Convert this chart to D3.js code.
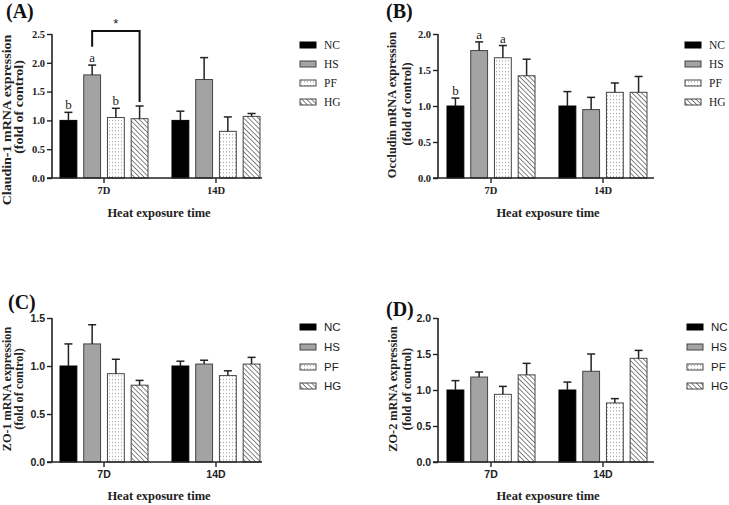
<!DOCTYPE html>
<html><head><meta charset="utf-8">
<script src="https://cdn.jsdelivr.net/npm/d3@7"></script>
<style>body{margin:0;background:#fff}svg{display:block}</style>
</head><body>
<script>
const groups = ["7D", "14D"];
const series = ["NC", "HS", "PF", "HG"];

const claudinMean = [[1.00, 1.79, 1.05, 1.03], [1.00, 1.71, 0.81, 1.07]];
const claudinSD   = [[0.14, 0.17, 0.16, 0.22], [0.16, 0.38, 0.25, 0.05]];
const claudinLetters = [["b", "a", "b", ""], ["", "", "", ""]];
const claudinTicks = [0, 0.5, 1.0, 1.5, 2.0, 2.5];

const occludinMean = [[1.00, 1.77, 1.67, 1.42], [1.00, 0.95, 1.19, 1.19]];
const occludinSD   = [[0.11, 0.12, 0.17, 0.23], [0.20, 0.17, 0.13, 0.22]];
const occludinLetters = [["b", "a", "a", ""], ["", "", "", ""]];
const occludinTicks = [0, 0.5, 1.0, 1.5, 2.0];

const zo1Mean = [[1.00, 1.23, 0.92, 0.80], [1.00, 1.02, 0.90, 1.02]];
const zo1SD   = [[0.23, 0.20, 0.15, 0.05], [0.05, 0.04, 0.05, 0.07]];
const zo1Ticks = [0, 0.5, 1.0, 1.5];

const zo2Mean = [[1.00, 1.18, 0.94, 1.21], [1.00, 1.26, 0.82, 1.44]];
const zo2SD   = [[0.13, 0.07, 0.11, 0.16], [0.11, 0.24, 0.06, 0.11]];
const zo2Ticks = [0, 0.5, 1.0, 1.5, 2.0];

const W = 729, H = 505;
const svg = d3.select("body").append("svg").attr("width", W).attr("height", H);
const defs = svg.append("defs");

// patterns
const pf = defs.append("pattern").attr("id", "dots").attr("patternUnits", "userSpaceOnUse")
  .attr("width", 3).attr("height", 3.5);
pf.append("rect").attr("width", 3).attr("height", 3.5).attr("fill", "#fff");
pf.append("rect").attr("x", 1).attr("y", 1).attr("width", 0.9).attr("height", 0.9).attr("fill", "#777");
const hg = defs.append("pattern").attr("id", "hatch").attr("patternUnits", "userSpaceOnUse")
  .attr("width", 3.4).attr("height", 3.4).attr("patternTransform", "rotate(-45)");
hg.append("rect").attr("width", 3.4).attr("height", 3.4).attr("fill", "#fff");
hg.append("line").attr("x1", 0).attr("y1", 0).attr("x2", 0).attr("y2", 3.4)
  .attr("stroke", "#333").attr("stroke-width", 1.2);

const fills = {NC: "#000", HS: "#a3a3a3", PF: "url(#dots)", HG: "url(#hatch)"};
const strokes = {NC: "#000", HS: "#444", PF: "#444", HG: "#444"};

const serif = "'Liberation Serif','Times New Roman',serif";
const sans = "'Liberation Sans',Arial,sans-serif";

const panels = [
  {tag: "(A)", tagX: 6, tagY: 18, mean: claudinMean, sd: claudinSD, letters: claudinLetters, ticks: claudinTicks,
   ymax: 2.5, x0: 52, x1: 262, bx0: 60, bx1: 260, yTop: 34, yBot: 178,
   lab1: "Claudin-1 mRNA expression", lab2: "(fold of control)", labX1: 7, labX2: 19, labY1: 120, labY2: 107, labFs: 14, labSq: 0.88,
   tickFont: serif, legFont: serif, legX: 300, legY: [45, 64, 83, 102], xlabY: 217, sig: true},
  {tag: "(B)", tagX: 386, tagY: 18, mean: occludinMean, sd: occludinSD, letters: occludinLetters, ticks: occludinTicks,
   ymax: 2.0, x0: 438, x1: 654, bx0: 447, bx1: 647, yTop: 34, yBot: 178,
   lab1: "Occludin mRNA expression", lab2: "(fold of control)", labX1: 392, labX2: 407, labY1: 105, labY2: 104, labFs: 12.4, labSq: 1,
   tickFont: serif, legFont: serif, legX: 685, legY: [45, 64, 83, 102], xlabY: 217, sig: false},
  {tag: "(C)", tagX: 8, tagY: 309, mean: zo1Mean, sd: zo1SD, letters: null, ticks: zo1Ticks,
   ymax: 1.5, x0: 52, x1: 262, bx0: 60, bx1: 260, yTop: 318, yBot: 462,
   lab1: "ZO-1 mRNA expression", lab2: "(fold of control)", labX1: 6.5, labX2: 18.5, labY1: 389, labY2: 389, labFs: 12.2, labSq: 1,
   tickFont: sans, legFont: sans, legX: 300, legY: [327, 347, 367, 386], xlabY: 500, sig: false},
  {tag: "(D)", tagX: 386, tagY: 316, mean: zo2Mean, sd: zo2SD, letters: null, ticks: zo2Ticks,
   ymax: 2.0, x0: 438, x1: 654, bx0: 447, bx1: 647, yTop: 318, yBot: 462,
   lab1: "ZO-2 mRNA expression", lab2: "(fold of control)", labX1: 393, labX2: 407, labY1: 389, labY2: 389, labFs: 12.3, labSq: 1,
   tickFont: sans, legFont: sans, legX: 687, legY: [327, 347, 367, 386], xlabY: 500, sig: false}
];

panels.forEach(p => {
  const g = svg.append("g");
  const y = d3.scaleLinear().domain([0, p.ymax]).range([p.yBot, p.yTop]);
  const xg = d3.scaleBand().domain(groups).range([p.bx0, p.bx1]).paddingInner(0.214).paddingOuter(0);
  const xs = d3.scaleBand().domain(series).range([0, xg.bandwidth()]).paddingInner(0.29).paddingOuter(0);

  // bars
  groups.forEach((grp, gi) => {
    series.forEach((s, si) => {
      const v = p.mean[gi][si], e = p.sd[gi][si];
      const bx = xg(grp) + xs(s), bw = xs.bandwidth();
      g.append("rect").attr("x", bx).attr("y", y(v)).attr("width", bw).attr("height", y(0) - y(v))
        .attr("fill", fills[s]).attr("stroke", strokes[s]).attr("stroke-width", 1);
      const cx = bx + bw / 2;
      g.append("line").attr("x1", cx).attr("x2", cx).attr("y1", y(v)).attr("y2", y(v + e))
        .attr("stroke", "#222").attr("stroke-width", 1.5);
      g.append("line").attr("x1", cx - 4).attr("x2", cx + 4).attr("y1", y(v + e)).attr("y2", y(v + e))
        .attr("stroke", "#222").attr("stroke-width", 1.5);
      if (p.letters && p.letters[gi][si]) {
        g.append("text").attr("x", cx).attr("y", y(v + e) - 3).attr("text-anchor", "middle")
          .attr("font-family", serif).attr("font-size", 13).attr("fill", "#222").text(p.letters[gi][si]);
      }
    });
  });

  // y axis
  const ya = d3.axisLeft(y).tickValues(p.ticks).tickFormat(d3.format(".1f")).tickSize(5).tickPadding(2);
  const yg = g.append("g").attr("transform", `translate(${p.x0},0)`).call(ya);
  yg.select(".domain").attr("d", `M0,${p.yTop}V${p.yBot}`).attr("stroke", "#222").attr("stroke-width", 1.6);
  yg.selectAll(".tick line").attr("stroke", "#222").attr("stroke-width", 1.4);
  yg.selectAll("text").attr("font-family", p.tickFont).attr("font-weight", "bold").attr("font-size", 10.5).attr("fill", "#222");

  // x axis
  const xa = d3.axisBottom(xg).tickSize(5).tickPadding(4);
  const xgA = g.append("g").attr("transform", `translate(0,${p.yBot})`).call(xa);
  xgA.select(".domain").attr("d", `M${p.x0 - 5},0H${p.x1}`).attr("stroke", "#222").attr("stroke-width", 1.6);
  xgA.selectAll(".tick line").attr("stroke", "#222").attr("stroke-width", 1.4);
  xgA.selectAll("text").attr("font-family", p.tickFont).attr("font-weight", "bold").attr("font-size", 10.5).attr("fill", "#222");

  // x label
  g.append("text").attr("x", (p.x0 + p.x1) / 2 + 2).attr("y", p.xlabY).attr("text-anchor", "middle")
    .attr("font-family", serif).attr("font-weight", "bold").attr("font-size", 12.5).attr("fill", "#222")
    .text("Heat exposure time");

  // y label
  [[p.lab1, p.labX1, p.labY1], [p.lab2, p.labX2, p.labY2]].forEach(([t, lx, ly]) => {
    g.append("text").attr("transform", `translate(${lx},${ly}) rotate(-90) scale(1,${p.labSq})`)
      .attr("text-anchor", "middle").attr("dominant-baseline", "central")
      .attr("font-family", serif).attr("font-weight", "bold").attr("font-size", p.labFs).attr("fill", "#222").text(t);
  });

  // tag
  g.append("text").attr("x", p.tagX).attr("y", p.tagY).attr("font-family", serif).attr("font-weight", "bold")
    .attr("font-size", 20).attr("fill", "#111").text(p.tag);

  // legend
  series.forEach((s, i) => {
    const ly = p.legY[i];
    g.append("rect").attr("x", p.legX).attr("y", ly - 3).attr("width", 16).attr("height", 6)
      .attr("fill", fills[s]).attr("stroke", strokes[s]).attr("stroke-width", 1);
    g.append("text").attr("x", p.legX + 24).attr("y", ly).attr("dominant-baseline", "central")
      .attr("font-family", p.legFont).attr("font-size", 11.5).attr("fill", "#222").text(s);
  });

  // significance bracket
  if (p.sig) {
    const gi = 0;
    const xa1 = xg(groups[gi]) + xs("HS") + xs.bandwidth() / 2;
    const xa2 = xg(groups[gi]) + xs("HG") + xs.bandwidth() / 2;
    const top = y(2.55);
    g.append("path").attr("d", `M${xa1},${y(2.28)}V${top}H${xa2}V${y(1.32)}`)
      .attr("fill", "none").attr("stroke", "#111").attr("stroke-width", 2);
    g.append("text").attr("x", (xa1 + xa2) / 2).attr("y", top - 3).attr("text-anchor", "middle")
      .attr("font-family", sans).attr("font-size", 13).attr("fill", "#222").text("*");
  }
});
</script>
</body></html>
